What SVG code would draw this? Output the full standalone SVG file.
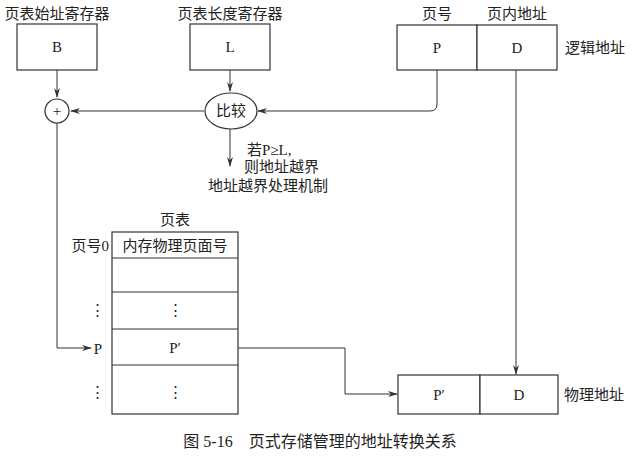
<svg xmlns="http://www.w3.org/2000/svg" width="644" height="462" viewBox="0 0 644 462">
<style>
text{font-family:"Liberation Serif","Noto Sans CJK SC",serif;font-size:15px;fill:#222}
.c{text-anchor:middle}
.b{fill:#fff;stroke:#333;stroke-width:1.2}
.l{fill:none;stroke:#333;stroke-width:1}
</style>
<defs><marker id="a" markerWidth="10" markerHeight="8" refX="9" refY="4" orient="auto" markerUnits="userSpaceOnUse"><path d="M0,1 L10,4 L0,7 L3,4z" fill="#333"/></marker></defs>
<rect width="644" height="462" fill="#fff"/>
<g id="connectors" class="l">
<path class="l" d="M57,70 V97" marker-end="url(#a)"/>
<path class="l" d="M230,70 V91" marker-end="url(#a)"/>
<path class="l" d="M437,70 V104 Q437,111 430,111 H258" marker-end="url(#a)"/>
<path class="l" d="M204,111 H71" marker-end="url(#a)"/>
<path class="l" d="M230,129 V166" marker-end="url(#a)"/>
<path class="l" d="M57,123 V348 H91" marker-end="url(#a)"/>
<path class="l" d="M238,348 H345 V394 H397" marker-end="url(#a)"/>
<path class="l" d="M516,70 V374" marker-end="url(#a)"/>
</g>
<g id="B"><text x="57" y="19" class="c">页表始址寄存器</text><rect class="b" x="17" y="24" width="80" height="46"/><text x="57" y="52" class="c">B</text></g>
<g id="L"><text x="230" y="19" class="c">页表长度寄存器</text><rect class="b" x="190" y="24" width="80" height="46"/><text x="230" y="52" class="c">L</text></g>
<g id="logical"><text x="437" y="19" class="c">页号</text><text x="517" y="19" class="c">页内地址</text>
<rect class="b" x="397" y="25" width="80" height="45"/><rect class="b" x="477" y="25" width="80" height="45"/>
<text x="437" y="53" class="c">P</text><text x="517" y="53" class="c">D</text><text x="565" y="53">逻辑地址</text></g>
<g id="plus"><circle class="b" cx="57" cy="111" r="12"/><text x="57" y="116" class="c">+</text></g>
<g id="compare"><ellipse class="b" cx="231" cy="111" rx="26" ry="18"/><text x="231" y="116" class="c">比较</text>
<text x="247" y="155">若P≥L,</text><text x="244" y="172">则地址越界</text><text x="268" y="191" class="c">地址越界处理机制</text></g>
<g id="table"><text x="175" y="225" class="c">页表</text>
<rect class="b" x="112" y="232" width="126" height="182"/>
<path class="l" d="M112,258H238M112,292H238M112,329H238M112,365H238"/>
<text x="175" y="251" class="c">内存物理页面号</text><text x="109" y="251" text-anchor="end">页号0</text>
<text x="175" y="315" class="c">⋮</text><text x="97" y="315" class="c">⋮</text>
<text x="175" y="353" class="c">P′</text><text x="98" y="354" class="c">P</text>
<text x="175" y="397" class="c">⋮</text><text x="97" y="397" class="c">⋮</text></g>
<g id="physical"><rect class="b" x="398" y="375" width="82" height="39"/><rect class="b" x="480" y="375" width="78" height="39"/>
<text x="439" y="400" class="c">P′</text><text x="519" y="400" class="c">D</text><text x="564" y="400">物理地址</text></g>
<text x="320" y="447" class="c" style="font-size:16px">图 5-16　页式存储管理的地址转换关系</text>
</svg>
